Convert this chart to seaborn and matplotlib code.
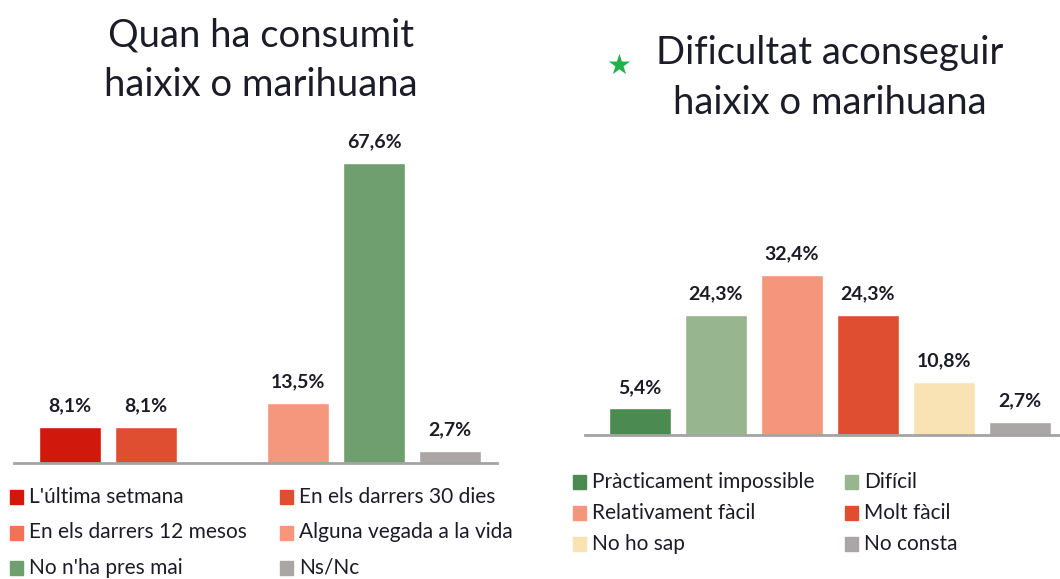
import matplotlib
matplotlib.use("Agg")
import matplotlib.pyplot as plt
import seaborn as sns
import pandas as pd

# ---- data ----
left_title = "Quan ha consumit\nhaixix o marihuana"
left_cats = ["L'última setmana", "En els darrers 30 dies", "En els darrers 12 mesos",
             "Alguna vegada a la vida", "No n'ha pres mai", "Ns/Nc"]
left_vals = [8.1, 8.1, 0.0, 13.5, 67.6, 2.7]
left_colors = ["#D0180C", "#E04E31", "#EE7357", "#F5977D", "#6F9E6F", "#A9A6A5"]

right_title = "Dificultat aconseguir\nhaixix o marihuana"
right_cats = ["Pràcticament impossible", "Difícil", "Relativament fàcil",
              "Molt fàcil", "No ho sap", "No consta"]
right_vals = [5.4, 24.3, 32.4, 24.3, 10.8, 2.7]
right_colors = ["#4B8A50", "#97B58F", "#F5967C", "#E04E31", "#F9E3B4", "#A9A6A5"]

W, H = 1060, 579
sns.set_theme(style="white")
plt.rcParams['font.family'] = ['Lato', 'DejaVu Sans']
TXT = "#1c1c28"

fig = plt.figure(figsize=(W / 100, H / 100), dpi=100)


def px_axes(x0, y_base, w, h):
    return fig.add_axes([x0 / W, 1 - y_base / H, w / W, h / H])


def draw(ax, cats, vals, colors, ymax, xlim):
    df = pd.DataFrame({"cat": cats, "val": vals})
    sns.barplot(data=df, x="cat", y="val", hue="cat", palette=colors, order=cats,
                hue_order=cats, legend=False, ax=ax, width=0.82, saturation=1)
    ax.set_ylim(0, ymax)
    ax.set_xlim(*xlim)
    ax.set_xlabel("")
    ax.set_ylabel("")
    ax.set_xticks([])
    ax.set_yticks([])
    for s in ["top", "right", "left"]:
        ax.spines[s].set_visible(False)
    ax.spines["bottom"].set_color("#A3A3A3")
    ax.spines["bottom"].set_linewidth(2)
    for cont, v in zip(ax.containers, vals):
        lab = [f"{v:.1f}%".replace(".", ",") if v > 0 else ""]
        ax.bar_label(cont, labels=lab, padding=9, fontsize=14, fontweight="bold", color=TXT)


axL = px_axes(14, 463, 483, 333)
draw(axL, left_cats, left_vals, left_colors, 75, (-0.74, 5.62))
axR = px_axes(585, 435, 475, 198)
draw(axR, right_cats, right_vals, right_colors, 40, (-0.72, 5.53))

# titles
fig.text(261 / W, 1 - 60 / H, left_title, ha="center", va="center", fontsize=27.5,
         color=TXT, linespacing=1.45)
fig.text(830 / W, 1 - 78 / H, right_title, ha="center", va="center", fontsize=27.5,
         color=TXT, linespacing=1.45)
fig.text(619 / W, 1 - 66 / H, "★", ha="center", va="center", fontsize=20,
         color="#22B04B", family="DejaVu Sans")


def legend(cats, colors, x0, y0, colgap, rowgap):
    for i, (c, col) in enumerate(zip(cats, colors)):
        r, k = divmod(i, 2)
        x = x0 + k * colgap
        y = y0 + r * rowgap
        fig.patches.append(plt.Rectangle(((x - 6) / W, 1 - (y + 7) / H), 13 / W, 14 / H,
                                         transform=fig.transFigure, color=col, figure=fig))
        fig.text((x + 13) / W, 1 - y / H, c, ha="left", va="center", fontsize=15, color=TXT)


legend(left_cats, left_colors, 16, 497, 270, 35.5)
legend(right_cats, right_colors, 579, 482, 272, 31)

fig.savefig("out.png", dpi=100)
